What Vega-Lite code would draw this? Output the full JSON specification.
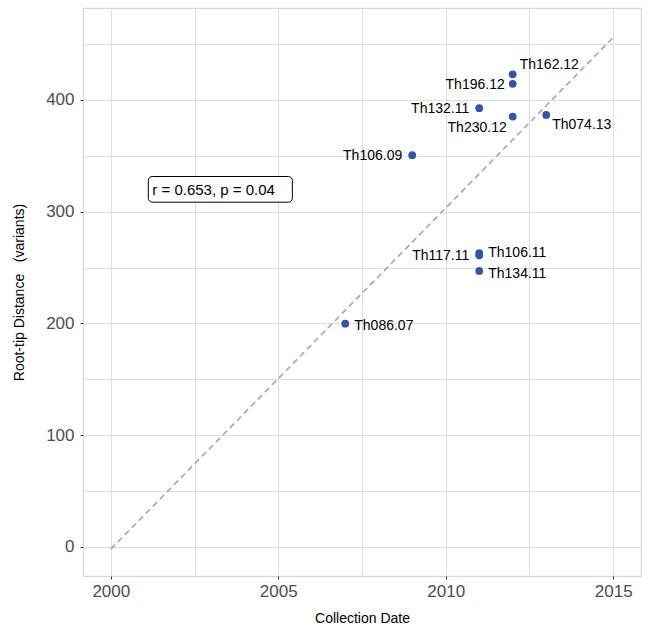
{
  "$schema": "https://vega.github.io/schema/vega-lite/v6.json",
  "autosize": "none",
  "width": 558,
  "height": 568,
  "padding": {"left": 83, "top": 8, "right": 8, "bottom": 53},
  "background": "white",
  "config": {
    "font": "Liberation Sans",
    "view": {"stroke": "#d6d6d6", "strokeWidth": 1.2},
    "axis": {
      "gridColor": "#dedede",
      "gridWidth": 1,
      "domain": false,
      "labelFont": "Liberation Sans",
      "titleFont": "Liberation Sans",
      "labelColor": "#4d4d4d",
      "labelFontSize": 17,
      "titleFontSize": 14,
      "titleFontWeight": "normal",
      "titleColor": "#000000",
      "tickSize": 3
    }
  },
  "datasets": {
    "pts": [
      {"name": "Th162.12", "year": 2012, "dist": 423},
      {"name": "Th196.12", "year": 2012, "dist": 414.5},
      {"name": "Th132.11", "year": 2011, "dist": 392.6},
      {"name": "Th230.12", "year": 2012, "dist": 385.2},
      {"name": "Th074.13", "year": 2013, "dist": 386.6},
      {"name": "Th106.09", "year": 2009, "dist": 350.6},
      {"name": "Th117.11", "year": 2011, "dist": 261},
      {"name": "Th106.11", "year": 2011, "dist": 263},
      {"name": "Th134.11", "year": 2011, "dist": 247},
      {"name": "Th086.07", "year": 2007, "dist": 199.8}
    ],
    "fit": [
      {"year": 2000, "dist": -2},
      {"year": 2015, "dist": 456}
    ],
    "note": [
      {"label": "r = 0.653, p = 0.04", "x": 2003.07, "y": 319.5, "x1": 2001.12, "x2": 2005.42, "y1": 308.5, "y2": 331.5}
    ]
  },
  "encoding": {
    "x": {
      "field": "year", "type": "quantitative",
      "scale": {"domain": [1999.17, 2015.83], "nice": false, "zero": false},
      "axis": {
        "title": "Collection Date",
        "titlePadding": 12,
        "values": [2000, 2002.5, 2005, 2007.5, 2010, 2012.5, 2015],
        "labelExpr": "datum.value % 5 === 0 ? datum.value : ''",
        "format": "d",
        "labelPadding": 4,
        "tickColor": {"condition": {"test": "datum.value % 5 === 0", "value": "#333333"}, "value": "transparent"}
      }
    },
    "y": {
      "field": "dist", "type": "quantitative",
      "scale": {"domain": [-26, 482.3], "nice": false, "zero": false},
      "axis": {
        "title": "Root-tip Distance\u00a0\u00a0\u00a0(variants)",
        "titlePadding": 19,
        "values": [0, 50, 100, 150, 200, 250, 300, 350, 400, 450],
        "labelExpr": "datum.value % 100 === 0 ? datum.value : ''",
        "labelPadding": 6,
        "tickColor": {"condition": {"test": "datum.value % 100 === 0", "value": "#333333"}, "value": "transparent"}
      }
    }
  },
  "layer": [
    {
      "data": {"name": "fit"},
      "mark": {"type": "line", "color": "#a6a6a6", "strokeDash": [6, 4], "strokeWidth": 1.6},
      "encoding": {}
    },
    {
      "data": {"name": "pts"},
      "mark": {"type": "circle", "size": 60, "color": "#3953a4", "opacity": 1}
    },
    {
      "data": {"name": "pts"},
      "transform": [{"filter": "datum.name === 'Th162.12'"}],
      "mark": {"type": "text", "align": "left", "baseline": "middle", "dx": 7, "dy": -9, "fontSize": 14, "color": "#000000"},
      "encoding": {"text": {"field": "name"}}
    },
    {
      "data": {"name": "pts"},
      "transform": [{"filter": "datum.name === 'Th196.12'"}],
      "mark": {"type": "text", "align": "right", "baseline": "middle", "dx": -8, "dy": 1, "fontSize": 14, "color": "#000000"},
      "encoding": {"text": {"field": "name"}}
    },
    {
      "data": {"name": "pts"},
      "transform": [{"filter": "datum.name === 'Th132.11' || datum.name === 'Th106.09' || datum.name === 'Th117.11'"}],
      "mark": {"type": "text", "align": "right", "baseline": "middle", "dx": -10, "dy": 1, "fontSize": 14, "color": "#000000"},
      "encoding": {"text": {"field": "name"}}
    },
    {
      "data": {"name": "pts"},
      "transform": [{"filter": "datum.name === 'Th230.12'"}],
      "mark": {"type": "text", "align": "right", "baseline": "middle", "dx": -6, "dy": 11, "fontSize": 14, "color": "#000000"},
      "encoding": {"text": {"field": "name"}}
    },
    {
      "data": {"name": "pts"},
      "transform": [{"filter": "datum.name === 'Th074.13'"}],
      "mark": {"type": "text", "align": "left", "baseline": "middle", "dx": 6, "dy": 10, "fontSize": 14, "color": "#000000"},
      "encoding": {"text": {"field": "name"}}
    },
    {
      "data": {"name": "pts"},
      "transform": [{"filter": "datum.name === 'Th106.11'"}],
      "mark": {"type": "text", "align": "left", "baseline": "middle", "dx": 9, "dy": 0, "fontSize": 14, "color": "#000000"},
      "encoding": {"text": {"field": "name"}}
    },
    {
      "data": {"name": "pts"},
      "transform": [{"filter": "datum.name === 'Th134.11'"}],
      "mark": {"type": "text", "align": "left", "baseline": "middle", "dx": 9, "dy": 3, "fontSize": 14, "color": "#000000"},
      "encoding": {"text": {"field": "name"}}
    },
    {
      "data": {"name": "pts"},
      "transform": [{"filter": "datum.name === 'Th086.07'"}],
      "mark": {"type": "text", "align": "left", "baseline": "middle", "dx": 9, "dy": 2, "fontSize": 14, "color": "#000000"},
      "encoding": {"text": {"field": "name"}}
    },
    {
      "data": {"name": "note"},
      "mark": {"type": "rect", "fill": "white", "stroke": "#000000", "strokeWidth": 1, "cornerRadius": 4},
      "encoding": {
        "x": {"field": "x1", "type": "quantitative"},
        "x2": {"field": "x2"},
        "y": {"field": "y1", "type": "quantitative"},
        "y2": {"field": "y2"}
      }
    },
    {
      "data": {"name": "note"},
      "mark": {"type": "text", "align": "center", "baseline": "middle", "fontSize": 15, "color": "#000000"},
      "encoding": {
        "x": {"field": "x", "type": "quantitative"},
        "y": {"field": "y", "type": "quantitative"},
        "text": {"field": "label"}
      }
    }
  ]
}
